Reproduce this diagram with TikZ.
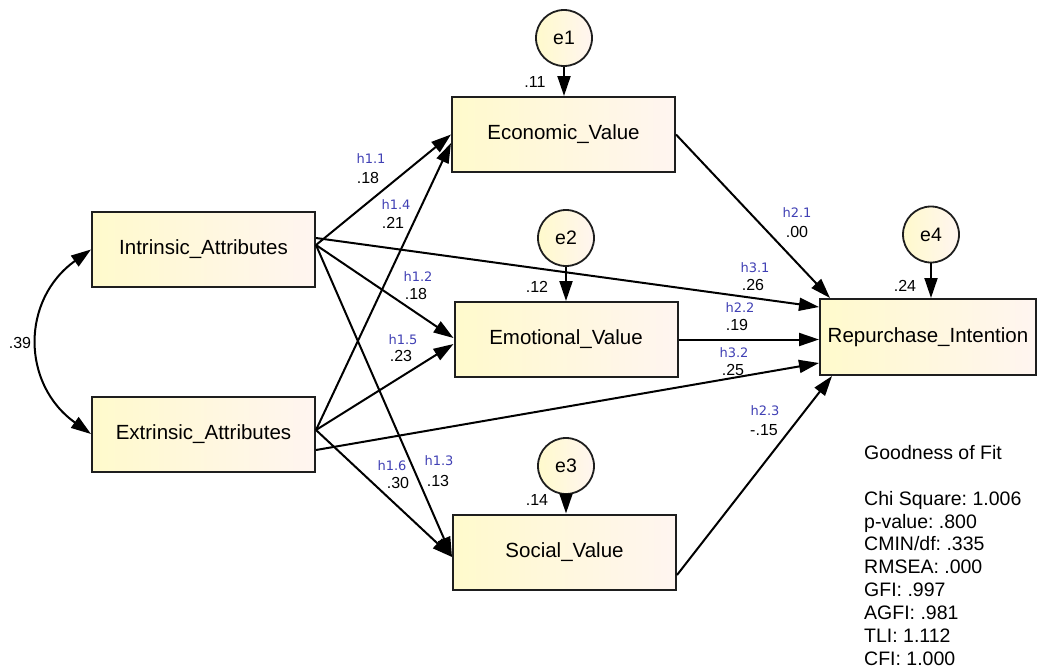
\documentclass[tikz,border=0pt]{standalone}
\usepackage{fontspec}
\setmainfont{Liberation Sans}
\newfontfamily\hfont{DejaVu Sans}
\usetikzlibrary{arrows.meta,calc}
\definecolor{boxL}{RGB}{255,250,204}
\definecolor{boxR}{RGB}{255,245,240}
\definecolor{hblue}{RGB}{64,64,180}
\definecolor{edgec}{RGB}{30,30,30}
\frenchspacing
\begin{document}
\begin{tikzpicture}[x=1pt,y=-1pt,
  var/.style={draw=edgec, line width=2pt, left color=boxL, right color=boxR,
    minimum width=223pt, minimum height=75pt, inner sep=0pt,
    font=\fontsize{20.5}{24}\selectfont},
  err/.style={circle, draw=edgec, line width=1.8pt, left color=boxL, right color=boxR,
    minimum size=56pt, inner sep=0pt, font=\fontsize{19.5}{23}\selectfont},
  arr/.style={line width=2pt, draw=black, -{Triangle[length=20pt,width=13pt]}},
  hlab/.style={font=\hfont\fontsize{13}{15}\selectfont, text=hblue, inner sep=0pt},
  vlab/.style={font=\fontsize{16}{18}\selectfont, inner sep=0pt}]
\useasboundingbox (0,0) rectangle (1038,669);

% observed variables
\node[var] (I)  at (203.5,249.5) {Intrinsic\_Attributes};
\node[var] (X)  at (203.5,434)   {Extrinsic\_Attributes};
\node[var] (Ec) at (563.5,134.5) {Economic\_Value};
\node[var] (Em) at (566,339.5)   {Emotional\_Value};
\node[var] (S)  at (564.5,552)   {Social\_Value};
\node[var, minimum width=216pt, minimum height=76pt] (R) at (928,337) {Repurchase\_Intention};

% error terms
\node[err] (e1) at (564,38)    {e1};
\node[err] (e2) at (566,238)   {e2};
\node[err] (e3) at (566,466)   {e3};
\node[err] (e4) at (931,234.5) {e4};

\draw[arr] (e1.south) -- (e1.south |- Ec.north);
\draw[arr] (e2.south) -- (e2.south |- Em.north);
\draw[arr] (e3.south) -- (e3.south |- S.north);
\draw[arr] (e4.south) -- (e4.south |- R.north);

% paths from Intrinsic
\draw[arr] ([yshift=4.5pt]I.east) -- (Ec.west);
\draw[arr] ([yshift=4.5pt]I.east) -- ([yshift=1.5pt]Em.west);
\draw[arr] ([yshift=4.5pt]I.east) -- ([yshift=-5pt]S.west);
\draw[arr] ([yshift=11.5pt]I.east) -- ([yshift=30pt]R.west);

% paths from Extrinsic
\draw[arr] ([yshift=4pt]X.east) -- ([yshift=-8.5pt]Ec.west);
\draw[arr] ([yshift=4pt]X.east) -- ([yshift=-4.5pt]Em.west);
\draw[arr] ([yshift=4pt]X.east) -- ([yshift=-5pt]S.west);
\draw[arr] ([yshift=-16pt]X.east) -- ([yshift=-26pt]R.west);

% mediators to outcome
\draw[arr] (Ec.east) -- ([xshift=11pt]R.north west);
\draw[arr] (Em.east) -- (Em.east -| R.west);
\draw[arr] ([yshift=-23pt]S.east) -- ([xshift=13pt]R.south west);

% covariance
\draw[line width=2pt, {Triangle[length=20pt,width=13pt]}-{Triangle[length=20pt,width=13pt]}]
  (I.west) .. controls +(-70,50) and +(-70,-50) .. (X.west);
\node[vlab] (c39) at (20,343) {.39};

% labels
\node[hlab] (lh11) at (371,159) {h1.1};
\node[vlab] (v11)  at (368,178) {.18};
\node[hlab] (lh14) at (396,205) {h1.4};
\node[vlab] (v14)  at (393,223) {.21};
\node[hlab] (lh12) at (418,277) {h1.2};
\node[vlab] (v12)  at (416,294) {.18};
\node[hlab] (lh15) at (403,340) {h1.5};
\node[vlab] (v15)  at (401,356) {.23};
\node[hlab] (lh16) at (392,466) {h1.6};
\node[vlab] (v16)  at (398,483) {.30};
\node[hlab] (lh13) at (439,461) {h1.3};
\node[vlab] (v13)  at (438,481) {.13};
\node[hlab] (lh21) at (797,213) {h2.1};
\node[vlab] (v21)  at (797,232) {.00};
\node[hlab] (lh31) at (755,268) {h3.1};
\node[vlab] (v31)  at (753,285) {.26};
\node[hlab] (lh22) at (740,308) {h2.2};
\node[vlab] (v22)  at (737,325) {.19};
\node[hlab] (lh32) at (734,353) {h3.2};
\node[vlab] (v32)  at (733,370) {.25};
\node[hlab] (lh23) at (765,411) {h2.3};
\node[vlab] (v23)  at (764,430) {-.15};

% squared multiple correlations
\node[vlab] (r1) at (535,82)  {.11};
\node[vlab] (r2) at (537,287) {.12};
\node[vlab] (r3) at (537,500) {.14};
\node[vlab] (r4) at (905,286) {.24};

% fit statistics
\node[anchor=north west, align=left, inner sep=0pt,
      font=\fontsize{19.5}{22.9}\selectfont] (gof) at (864,445)
  {Goodness of Fit\\[22.9pt]
   Chi Square: 1.006\\
   p-value: .800\\
   CMIN/df: .335\\
   RMSEA: .000\\
   GFI: .997\\
   AGFI: .981\\
   TLI: 1.112\\
   CFI: 1.000};
\end{tikzpicture}
\end{document}
